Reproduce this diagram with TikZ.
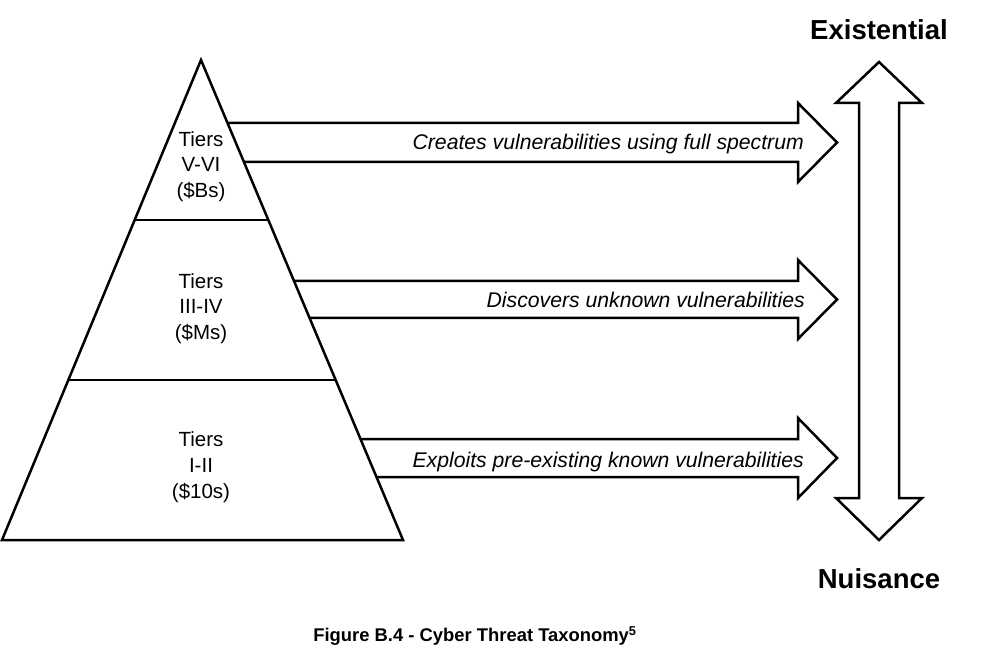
\documentclass[tikz,border=0pt]{standalone}
\usepackage{fontspec}
\setmainfont{Liberation Sans}
\usetikzlibrary{calc,positioning}

\tikzset{
  outline/.style={line width=2.5pt, line join=miter},
  tiertext/.style={align=center, inner sep=0pt, font=\fontsize{20.5}{25.7}\selectfont},
  arrowtext/.style={anchor=base east, inner sep=0pt, font=\fontsize{21.2}{25}\selectfont\itshape},
  endtext/.style={anchor=base, inner sep=0pt, font=\fontsize{27.5}{30}\selectfont\bfseries},
}

\begin{document}
\begin{tikzpicture}[x=1pt, y=-1pt]
\useasboundingbox (0,0) rectangle (983,652);

%corners
\coordinate (apex) at (201,60);
\coordinate (bl) at (2,540);
\coordinate (br) at (403,540);

%arrows
\draw[outline] (200,123) -- (798,123) -- (798,103) -- (837,142.5) -- (798,182) -- (798,162) -- (200,162);
\draw[outline] (260,281) -- (798,281) -- (798,260) -- (837,299.5) -- (798,339) -- (798,318) -- (260,318);
\draw[outline] (330,439) -- (798,439) -- (798,418) -- (837,458) -- (798,498) -- (798,477) -- (330,477);

%pyramid
\draw[outline, fill=white] (apex) -- (br) -- (bl) -- cycle;
\draw[outline] ($(apex)!1/3!(bl)$) -- ($(apex)!1/3!(br)$);
\draw[outline] ($(apex)!2/3!(bl)$) -- ($(apex)!2/3!(br)$);

%double arrow
\draw[outline] (859,103) -- (836,103) -- (879,62) -- (922,103) -- (899,103) -- (899,498) -- (922,498) -- (879,540) -- (836,498) -- (859,498) -- cycle;

%texts
\node[tiertext] (top) at (201,166.5) {Tiers\\V-VI\\(\$Bs)};
\node[tiertext] (mid) at (201,308.5) {Tiers\\III-IV\\(\$Ms)};
\node[tiertext] (low) at (201,467) {Tiers\\I-II\\(\$10s)};

\node[arrowtext] (create) at (804,149.5) {Creates vulnerabilities using full spectrum};
\node[arrowtext] (discover) at (805,307.5) {Discovers unknown vulnerabilities};
\node[arrowtext] (exploit) at (804,467) {Exploits pre-existing known vulnerabilities};

\node[endtext] (exist) at (879,39.3) {Existential};
\node[endtext] (nuis) at (879,588) {Nuisance};

\node[anchor=base, inner sep=0pt, font=\fontsize{18.4}{22}\selectfont\bfseries] (caption) at (475,641.5) {Figure B.4 - Cyber Threat Taxonomy\textsuperscript{5}};

\end{tikzpicture}
\end{document}
